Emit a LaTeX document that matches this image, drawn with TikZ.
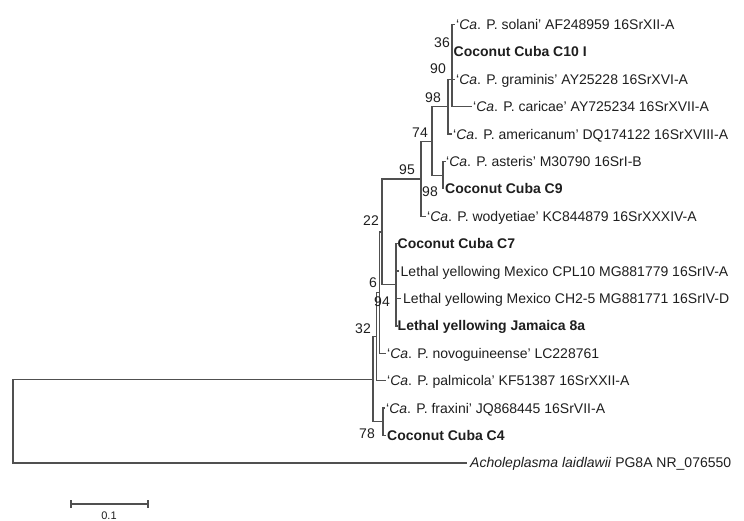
\documentclass[tikz,border=0pt]{standalone}
\usepackage{fontspec}
\setmainfont{Liberation Sans}
\definecolor{linegray}{RGB}{80,80,80}
\definecolor{txt}{RGB}{30,30,30}
\newcommand{\lf}{\fontsize{14}{16}\selectfont}
\newcommand{\scalefont}{\fontsize{11}{13}\selectfont}
\begin{document}
\begin{tikzpicture}[x=1pt,y=-1pt,
  br/.style={draw=linegray, line width=1.3pt},
  leaf/.style={anchor=base west, inner sep=0pt, font=\lf, text=txt},
  boot/.style={anchor=base, inner sep=0pt, font=\lf, text=txt}]
\useasboundingbox (0,0) rectangle (744,520);
% internal nodes
\coordinate (n90) at (452,79.3);
\coordinate (n98t) at (448,106.7);
\coordinate (nAC) at (443,175.2);
\coordinate (n74) at (432,141.5);
\coordinate (n95) at (421,178.9);
\coordinate (nK) at (396,284.8);
\coordinate (n22) at (382,231.85);
\coordinate (n6) at (379.5,292.6);
\coordinate (n32) at (376.5,336.65);
\coordinate (n78) at (383,421.8);
\coordinate (nR) at (373,379.2);
\coordinate (root) at (13,421.05);
% leaf branch ends
\coordinate (eSol) at (455,24.5);
\coordinate (eC10) at (452,51.9);
\coordinate (eGra) at (455,79.3);
\coordinate (eCar) at (472,106.7);
\coordinate (eAme) at (452,134.1);
\coordinate (eAst) at (446,161.5);
\coordinate (eC9) at (443,188.9);
\coordinate (eWod) at (426,216.3);
\coordinate (eC7) at (397.5,243.7);
\coordinate (eCPL) at (398.5,271.1);
\coordinate (eCH) at (401,298.5);
\coordinate (eJam) at (397.5,325.9);
\coordinate (eNov) at (386,353.3);
\coordinate (ePal) at (386,380.7);
\coordinate (eFra) at (385,408.1);
\coordinate (eC4) at (386,435.5);
\coordinate (eAch) at (467,462.9);
% branches
\draw[br] (n90) |- (eSol);
\draw[br] (n90) |- (eC10);
\draw[br] (n90) -- (eGra);
\draw[br] (n90) |- (eCar);
\draw[br] (n98t) |- (n90);
\draw[br] (n98t) |- (eAme);
\draw[br] (n74) |- (n98t);
\draw[br] (n74) |- (nAC);
\draw[br] (nAC) |- (eAst);
\draw[br] (nAC) |- (eC9);
\draw[br] (n95) |- (n74);
\draw[br] (n95) |- (eWod);
\draw[br] (nK) |- (eC7);
\draw[br] (nK) |- (eCPL);
\draw[br] (nK) |- (eCH);
\draw[br] (nK) |- (eJam);
\draw[br] (n22) |- (n95);
\draw[br] (n22) |- (nK);
\draw[br] (n6) |- (n22);
\draw[br] (n6) |- (eNov);
\draw[br] (n32) |- (n6);
\draw[br] (n32) |- (ePal);
\draw[br] (n78) |- (eFra);
\draw[br] (n78) |- (eC4);
\draw[br] (nR) |- (n32);
\draw[br] (nR) |- (n78);
\draw[br] (root) |- (nR);
\draw[br] (root) |- (eAch);
% leaf labels
\node[leaf] (lSol) at ([xshift=1pt,yshift=-5pt]eSol) {‘\textit{Ca}. P. solani’ AF248959 16SrXII-A};
\node[leaf] (lC10) at ([xshift=1.5pt,yshift=-5pt]eC10) {\textbf{Coconut Cuba C10 I}};
\node[leaf] (lGra) at ([xshift=1pt,yshift=-5pt]eGra) {‘\textit{Ca}. P. graminis’ AY25228 16SrXVI-A};
\node[leaf] (lCar) at ([xshift=1pt,yshift=-5pt]eCar) {‘\textit{Ca}. P. caricae’ AY725234 16SrXVII-A};
\node[leaf] (lAme) at ([xshift=1pt,yshift=-5pt]eAme) {‘\textit{Ca}. P. americanum’ DQ174122 16SrXVIII-A};
\node[leaf] (lAst) at ([xshift=0pt,yshift=-5pt]eAst) {‘\textit{Ca}. P. asteris’ M30790 16SrI-B};
\node[leaf] (lC9) at ([xshift=2pt,yshift=-5pt]eC9) {\textbf{Coconut Cuba C9}};
\node[leaf] (lWod) at ([xshift=1pt,yshift=-5pt]eWod) {‘\textit{Ca}. P. wodyetiae’ KC844879 16SrXXXIV-A};
\node[leaf] (lC7) at ([xshift=0pt,yshift=-5pt]eC7) {\textbf{Coconut Cuba C7}};
\node[leaf] (lCPL) at ([xshift=2pt,yshift=-5pt]eCPL) {Lethal yellowing Mexico CPL10 MG881779 16SrIV-A};
\node[leaf] (lCH) at ([xshift=2pt,yshift=-5pt]eCH) {Lethal yellowing Mexico CH2-5 MG881771 16SrIV-D};
\node[leaf] (lJam) at ([xshift=0pt,yshift=-5pt]eJam) {\textbf{Lethal yellowing Jamaica 8a}};
\node[leaf] (lNov) at ([xshift=1pt,yshift=-5pt]eNov) {‘\textit{Ca}. P. novoguineense’ LC228761};
\node[leaf] (lPal) at ([xshift=1pt,yshift=-5pt]ePal) {‘\textit{Ca}. P. palmicola’ KF51387 16SrXXII-A};
\node[leaf] (lFra) at ([xshift=1pt,yshift=-5pt]eFra) {‘\textit{Ca}. P. fraxini’ JQ868445 16SrVII-A};
\node[leaf] (lC4) at ([xshift=1pt,yshift=-5pt]eC4) {\textbf{Coconut Cuba C4}};
\node[leaf] (lAch) at ([xshift=3pt,yshift=-5pt]eAch) {\textit{Acholeplasma laidlawii} PG8A NR\_076550};
% bootstrap values
\node[boot] (b36) at (442,47) {36};
\node[boot] (b90) at (438,73) {90};
\node[boot] (b98a) at (433,102) {98};
\node[boot] (b74) at (420,137) {74};
\node[boot] (b95) at (407,174) {95};
\node[boot] (b98b) at (430,196) {98};
\node[boot] (b22) at (371,225) {22};
\node[boot] (b6) at (373,287) {6};
\node[boot] (b94) at (382,306) {94};
\node[boot] (b32) at (363,333) {32};
\node[boot] (b78) at (367,438) {78};
% scale bar
\coordinate (sbL) at (71,504);
\coordinate (sbR) at (148,504);
\draw[br] (sbL) -- (sbR);
\draw[br] ([yshift=4pt]sbL) -- ([yshift=-4pt]sbL);
\draw[br] ([yshift=4pt]sbR) -- ([yshift=-4pt]sbR);
\node[anchor=base, inner sep=0pt, font=\scalefont, text=txt] (sbT) at (109,519) {0.1};
\end{tikzpicture}
\end{document}
